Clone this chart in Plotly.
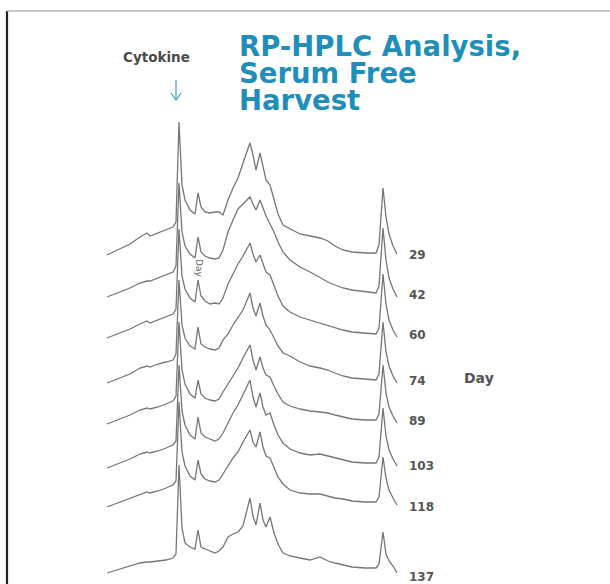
import plotly.graph_objects as go

# Retention time (min) sampling grid shared by all chromatograms
retention_time = [1.4, 4.0, 6.0, 8.0, 9.4, 10.0, 11.6, 13.2, 14.6, 15.2, 15.8, 16.4, 17.0, 18.0,
                  19.0, 19.6, 20.2, 21.0, 22.0, 23.0, 23.8, 24.6, 25.6, 26.6, 27.6, 28.6, 30.0,
                  30.6, 31.2, 32.0, 32.6, 33.2, 34.0, 34.8, 35.6, 36.6, 38.0, 40.0, 42.0, 44.0,
                  45.6, 47.0, 48.6, 50.4, 53.0, 55.2, 55.8, 56.6, 57.2, 57.8, 58.6, 59.4]

days = ["29", "42", "60", "74", "89", "103", "118", "137"]

# Absorbance (mAU) of each harvest day, relative to its own baseline
abs_day29 = [-3, 3, 8, 15, 19, 16, 19, 22, 25, 30, 130, 67, 52, 42, 38, 59, 45, 40, 39, 40, 40, 37, 52, 64,
             74, 89, 109, 97, 82, 99, 87, 72, 67, 52, 38, 27, 23, 18, 16, 14, 11, 6, 2, 0, -1, -1, 7, 64,
             35, 18, 6, -2]
abs_day42 = [-3, 2, 6, 11, 13, 13, 16, 19, 22, 28, 111, 62, 48, 40, 36, 57, 42, 38, 36, 35, 36, 44, 62, 74,
             85, 90, 97, 90, 84, 94, 85, 78, 70, 62, 52, 42, 34, 27, 22, 16, 12, 9, 6, 4, 2, 1, 8, 66,
             34, 16, 5, -3]
abs_day60 = [-4, 1, 5, 10, 13, 11, 14, 17, 20, 25, 105, 58, 45, 36, 32, 54, 38, 33, 30, 31, 30, 36, 50, 60,
             70, 78, 91, 80, 72, 79, 70, 62, 59, 48, 38, 28, 22, 17, 14, 11, 8, 6, 4, 2, 1, 0, 6, 60,
             30, 14, 4, -3]
abs_day74 = [-3, 2, 6, 12, 14, 13, 16, 18, 20, 26, 100, 55, 42, 34, 31, 53, 36, 33, 31, 30, 32, 40, 46, 55,
             62, 70, 87, 72, 64, 77, 64, 55, 50, 42, 34, 27, 24, 18, 14, 12, 10, 7, 4, 2, 1, 0, 6, 58,
             28, 14, 4, -3]
abs_day89 = [-4, 1, 5, 10, 12, 11, 13, 16, 19, 24, 98, 50, 36, 26, 22, 40, 26, 22, 20, 19, 21, 28, 36, 44,
             52, 62, 75, 60, 50, 63, 52, 45, 43, 34, 26, 18, 14, 11, 9, 8, 7, 5, 3, 1, 0, 0, 6, 55,
             27, 13, 4, -3]
abs_day103 = [-5, 0, 4, 9, 11, 10, 12, 15, 18, 22, 98, 52, 38, 28, 24, 46, 30, 26, 24, 22, 24, 30, 40, 50,
              58, 68, 83, 66, 56, 70, 56, 48, 50, 38, 28, 20, 14, 10, 8, 9, 7, 5, 3, 1, 0, 0, 6, 55,
              27, 13, 4, -3]
abs_day118 = [-5, 0, 4, 8, 10, 9, 11, 14, 17, 21, 100, 50, 36, 26, 22, 42, 28, 23, 21, 20, 22, 28, 36, 44,
              50, 60, 72, 60, 55, 70, 55, 46, 44, 34, 25, 18, 12, 9, 8, 8, 6, 4, 3, 1, 0, 0, 5, 45,
              24, 12, 4, -3]
abs_day137 = [-5, -1, 2, 5, 6, 6, 7, 8, 10, 14, 103, 40, 25, 21, 19, 38, 21, 19, 17, 15, 17, 21, 31, 34,
              36, 42, 70, 52, 43, 65, 48, 41, 51, 35, 24, 15, 12, 10, 8, 11, 7, 5, 3, 1, 0, 0, 4, 36,
              14, 7, 2, -5]

series = [abs_day29, abs_day42, abs_day60, abs_day74, abs_day89, abs_day103, abs_day118, abs_day137]

# waterfall stacking offsets (layout), in pixels from top of figure
W, H = 610, 584
stack_base_px = [252, 294, 334, 380, 420, 463, 502, 568]
label_px = [255, 295, 335, 381, 421, 466, 507, 577]

def t_of_px(px):
    return (px - 100) / 5.0

fig = go.Figure()
for vals, base in zip(series, stack_base_px):
    fig.add_trace(go.Scatter(
        x=retention_time,
        y=[-base + v for v in vals],
        mode="lines",
        line=dict(color="#767676", width=1.3),
        hoverinfo="skip",
        showlegend=False,
    ))

ann = []
for d, ly in zip(days, label_px):
    ann.append(dict(x=t_of_px(407), y=-ly, xref="x", yref="y", text=d, showarrow=False,
                    xanchor="left", yanchor="middle",
                    font=dict(family="DejaVu Sans", size=12, color="#555555", weight="bold")))

ann.append(dict(x=462 / W, y=1 - 378 / H, xref="paper", yref="paper", text="Day", showarrow=False,
                xanchor="left", yanchor="middle",
                font=dict(family="DejaVu Sans", size=14, color="#555555", weight="bold")))

title_lines = ["RP-HPLC Analysis,", "Serum Free", "Harvest"]
for line, cy in zip(title_lines, [46, 73, 100]):
    ann.append(dict(x=237 / W, y=1 - cy / H, xref="paper", yref="paper", text=line, showarrow=False,
                    xanchor="left", yanchor="middle",
                    font=dict(family="DejaVu Sans", size=27.5, color="#1f8fb9", weight="bold")))

ann.append(dict(x=156 / W, y=1 - 57 / H, xref="paper", yref="paper", text="Cytokine", showarrow=False,
                xanchor="center", yanchor="middle",
                font=dict(family="DejaVu Sans", size=13.5, color="#4a4a4a", weight="bold")))

ann.append(dict(x=199 / W, y=1 - 268 / H, xref="paper", yref="paper", text="Day", showarrow=False,
                textangle=90, xanchor="center", yanchor="middle",
                font=dict(family="DejaVu Sans", size=9, color="#666666")))

shapes = [
    dict(type="line", xref="paper", yref="paper", x0=7 / W, x1=7 / W, y0=0, y1=1 - 11 / H,
         line=dict(color="#222222", width=2.2)),
    dict(type="line", xref="paper", yref="paper", x0=7 / W, x1=1, y0=1 - 11 / H, y1=1 - 11 / H,
         line=dict(color="#b8b8b8", width=1.5)),
    # arrow to the cytokine peak
    dict(type="line", xref="paper", yref="paper", x0=176 / W, x1=176 / W, y0=1 - 80 / H, y1=1 - 100 / H,
         line=dict(color="#3a9fb5", width=1.2)),
    dict(type="path", xref="paper", yref="paper",
         path="M %f %f L %f %f L %f %f" % (171 / W, 1 - 93 / H, 176 / W, 1 - 100 / H, 181 / W, 1 - 93 / H),
         line=dict(color="#3a9fb5", width=1.2)),
]

fig.update_layout(
    width=W, height=H,
    margin=dict(l=0, r=0, t=0, b=0),
    paper_bgcolor="white", plot_bgcolor="white",
    xaxis=dict(range=[t_of_px(0), t_of_px(W)], visible=False, fixedrange=True),
    yaxis=dict(range=[-H, 0], visible=False, fixedrange=True),
    annotations=ann,
    shapes=shapes,
)

fig.write_html("out.html", config={"displayModeBar": False},
               post_script="document.body.style.margin='0px';document.body.style.overflow='hidden';")
